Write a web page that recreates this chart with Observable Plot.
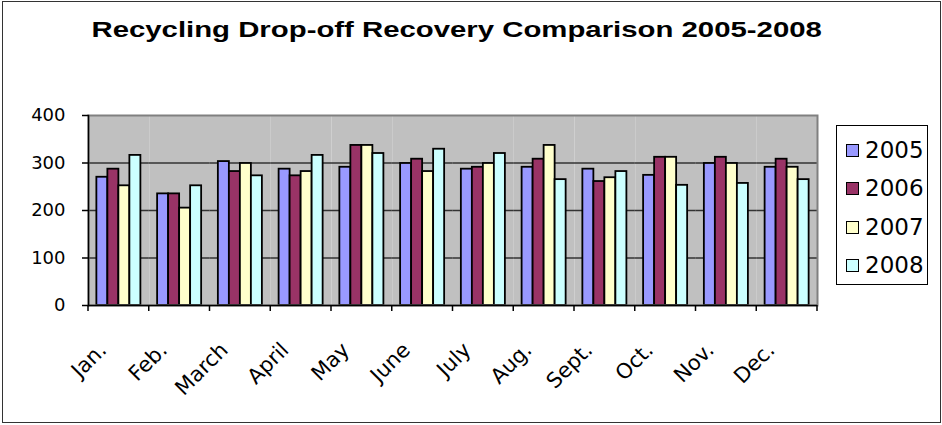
<!DOCTYPE html>
<html><head><meta charset="utf-8">
<script src="https://cdn.jsdelivr.net/npm/d3@7"></script>
<script src="https://cdn.jsdelivr.net/npm/@observablehq/plot@0.6"></script>
<style>
body{margin:0;background:#fff;}
#wrap{position:relative;width:942px;height:425px;overflow:hidden;font-family:"DejaVu Sans",sans-serif;color:#000;}
#border{position:absolute;left:2px;top:1px;width:939px;height:422px;box-sizing:border-box;border:1.5px solid #333;}
#chart{position:absolute;left:0;top:0;}
#title{position:absolute;left:0;width:914px;top:20px;text-align:center;font-family:"Liberation Sans",Arial,sans-serif;font-weight:bold;font-size:21.5px;line-height:21px;white-space:nowrap;}
#title span{display:inline-block;transform-origin:center;}
#legend{position:absolute;left:836px;top:125px;width:92px;height:160px;box-sizing:border-box;border:1px solid #000;background:#fff;}
.item{position:absolute;left:9px;height:26px;display:flex;align-items:center;font-size:23px;line-height:26px;}
.sw{width:11px;height:11px;border:1.5px solid #000;margin-right:6px;flex:none;}
</style></head><body>
<div id="wrap"><div id="border"></div><div id="chart"></div><div id="title"><span id="tspan"></span></div><div id="legend"></div></div>
<script>
const titleText = "Recycling Drop-off Recovery Comparison 2005-2008";
const months = ["Jan.","Feb.","March","April","May","June","July","Aug.","Sept.","Oct.","Nov.","Dec."];
const years = ["2005","2006","2007","2008"];
const v2005 = [270,235,303,287,291,299,287,291,287,274,299,291];
const v2006 = [287,235,282,273,337,308,291,308,261,312,312,308];
const v2007 = [252,205,299,282,337,282,299,337,269,312,299,291];
const v2008 = [316,252,273,316,320,329,320,265,282,253,257,265];
const colors = ["#9999FF","#993366","#FFFFCC","#CCFFFF"];
const yTicks = [0,100,200,300,400];

const series = [v2005, v2006, v2007, v2008];
const data = [];
months.forEach((m, i) => years.forEach((y, j) => data.push({month: m, year: y, value: series[j][i]})));

const boundaryTicks = Plot.frame({
  facet: "super",
  render(index, scales, values, dimensions) {
    const fx = scales.fx;
    const dom = fx.domain();
    const bw = typeof fx.bandwidth === "function" ? fx.bandwidth() : fx.bandwidth;
    const xs = dom.map(m => fx(m)).concat([fx(dom[dom.length - 1]) + bw]);
    const yb = dimensions.height - dimensions.marginBottom;
    const g = d3.create("svg:g").attr("stroke", "#000").attr("stroke-width", 1.5);
    g.selectAll("line").data(xs).join("line")
      .attr("x1", d => d).attr("x2", d => d).attr("y1", yb).attr("y2", yb + 6);
    return g.node();
  }
});

const chart = Plot.plot({
  width: 942, height: 425,
  marginLeft: 88, marginRight: 125, marginTop: 115, marginBottom: 120,
  style: {fontFamily: "DejaVu Sans, sans-serif", fontSize: "18px", color: "#000", background: "transparent", overflow: "visible"},
  fx: {domain: months, padding: 0, round: false, axis: null, label: null},
  x: {domain: years, paddingInner: 0, paddingOuter: 0.76, round: false, axis: null, label: null},
  y: {domain: [0, 400], axis: null, label: null},
  color: {domain: years, range: colors},
  marks: [
    Plot.frame({fill: "#C0C0C0"}),
    Plot.ruleY(yTicks.filter(t => t > 0 && t < 400), {stroke: "#333", strokeWidth: 1.5}),
    Plot.barY(data, {fx: "month", x: "year", y: "value", fill: "year", stroke: "#000", strokeWidth: 1.8}),
    Plot.frame({facet: "super", stroke: "#808080", strokeWidth: 2}),
    Plot.frame({facet: "super", anchor: "left", stroke: "#000", strokeWidth: 1.5}),
    Plot.ruleY([0], {stroke: "#000", strokeWidth: 1.5}),
    boundaryTicks,
    Plot.axisY({ticks: yTicks, tickSize: 6, tickPadding: 17, fontSize: 18, facetAnchor: "left", label: null, strokeWidth: 1.5}),
    Plot.axisFx({anchor: "bottom", tickSize: 0, tickPadding: 0, tickRotate: -45, fontSize: 21, dx: -16, dy: 41, label: null})
  ]
});
document.getElementById("chart").appendChild(chart);

// title
const ts = document.getElementById("tspan");
ts.textContent = titleText;
const w = ts.offsetWidth;
ts.style.transform = `scaleX(${730 / w})`;

// legend
const legend = d3.select("#legend");
const centers = [11, 49, 88, 126];
years.forEach((y, j) => {
  const it = legend.append("div").attr("class", "item").style("top", centers[j] + "px");
  it.append("div").attr("class", "sw").style("background", colors[j]);
  it.append("span").text(y);
});
</script>
</body></html>
